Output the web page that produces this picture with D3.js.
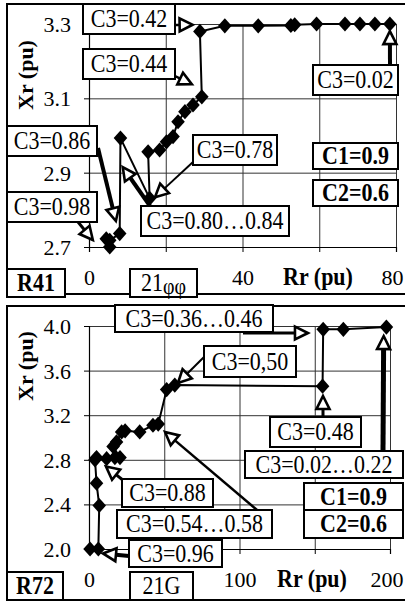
<!DOCTYPE html>
<html>
<head>
<meta charset="utf-8">
<script src="https://cdn.jsdelivr.net/npm/d3@7"></script>
<style>
  html, body { margin: 0; padding: 0; background: #fff; }
  svg { display: block; }
  svg text { font-family: "Liberation Serif", "DejaVu Serif", "Times New Roman", serif !important; fill: #000; }
</style>
</head>
<body>
<svg id="chart" width="405" height="605"></svg>
<script>
// ---------- DATA ----------
// Panel R41 (21φφ): rotor resistance Rr vs reactance Xr
const r41Rr = [78.4, 74.5, 70.6, 66.7, 59.3, 53.6, 52.6, 44.1, 35.4, 28.9, 29.4, 27.1, 25.0, 23.2, 21.9, 20.2, 18.4, 15.4, 15.8, 8.2, 8.0, 5.4, 4.5, 5.4];
const r41Xr = [3.300, 3.300, 3.300, 3.300, 3.300, 3.298, 3.296, 3.295, 3.295, 3.280, 3.104, 3.082, 3.064, 3.037, 2.997, 2.983, 2.961, 2.956, 2.831, 2.993, 2.736, 2.718, 2.722, 2.700];
const r41XTicks = [0, 20, 40, 60, 80];
const r41XLabels = [0, 40, 80];
const r41YTicks = [2.7, 2.9, 3.1, 3.3];

// Panel R72 (21G)
const r72Rr = [197.6, 169.0, 155.6, 155.2, 57.0, 51.6, 46.0, 42.5, 33.7, 24.0, 21.7, 18.3, 16.0, 20.6, 17.2, 11.7, 5.0, 4.0, 5.0, 6.8, 6.2, 0.7];
const r72Xr = [3.99, 3.97, 3.97, 3.46, 3.47, 3.43, 3.12, 3.11, 3.05, 3.06, 3.05, 2.96, 2.92, 2.82, 2.82, 2.81, 2.82, 2.80, 2.59, 2.39, 2.00, 2.00];
const r72XTicks = [0, 50, 100, 150, 200];
const r72XLabels = [0, 100, 200];
const r72YTicks = [2.0, 2.4, 2.8, 3.2, 3.6, 4.0];

// Annotation texts
const r41Labels = ["C3=0.42", "C3=0.44", "C3=0.86", "C3=0.98", "C3=0.78", "C3=0.80…0.84", "C3=0.02"];
const r41Targets = [[27.0, 3.298], [26.8, 3.138], [7.0, 2.770], [1.0, 2.719], [17.2, 2.834], [8.8, 2.915], [78.4, 3.281]];
const r72Labels = ["C3=0.36…0.46", "C3=0,50", "C3=0.48", "C3=0.02…0.22", "C3=0.88", "C3=0.54…0.58", "C3=0.96"];
const r72Targets = [[145.5, 3.937], [59.1, 3.489], [155.5, 3.372], [195.8, 3.91], [11.3, 2.74], [50.5, 3.05], [9.3, 1.96]];
const constLabels = ["C1=0.9", "C2=0.6"];
const panelNames = ["R41", "R72"];

// ---------- DRAW ----------
const svg = d3.select("#chart");
const FS = 22;
const FONT = '"Liberation Serif", "DejaVu Serif", "Times New Roman", serif';
const STRETCH = 1.12;

function arrow(g, x1, y1, x2, y2, w) {
  const dx = x2 - x1, dy = y2 - y1, L = Math.hypot(dx, dy);
  const ux = dx / L, uy = dy / L, nx = -uy, ny = ux;
  const hl = 13, hw = 6.5;
  const bx = x2 - ux * hl, by = y2 - uy * hl;
  g.append("line").attr("x1", x1).attr("y1", y1).attr("x2", bx).attr("y2", by)
    .attr("stroke", "#000").attr("stroke-width", w);
  g.append("path")
    .attr("d", d3.line()([[x2, y2], [bx + nx * hw, by + ny * hw], [bx - nx * hw, by - ny * hw]]) + "Z")
    .attr("fill", "#fff").attr("stroke", "#000").attr("stroke-width", 2.6).attr("stroke-linejoin", "miter");
}

function box(g, x0, y0, x1, y1, txt, bold) {
  g.append("rect").attr("x", x0).attr("y", y0).attr("width", x1 - x0).attr("height", y1 - y0)
    .attr("fill", "#fff").attr("stroke", "#000").attr("stroke-width", 2);
  return g.append("text")
    .attr("transform", `translate(${(x0 + x1) / 2},${(y0 + y1) / 2 + 8}) scale(1,${STRETCH})`)
    .attr("text-anchor", "middle").attr("font-size", FS).attr("font-family", FONT)
    .attr("font-weight", bold ? "bold" : "normal").text(txt);
}

function panel(cfg) {
  const g = svg.append("g").attr("font-family", FONT);
  const x = d3.scaleLinear().domain(cfg.xDom).range(cfg.xRange);
  const y = d3.scaleLinear().domain(cfg.yDom).range(cfg.yRange);
  const [L, R] = cfg.xRange, [B, T] = cfg.yRange;

  // frame
  g.append("rect").attr("x", cfg.frame[0]).attr("y", cfg.frame[1])
    .attr("width", cfg.frame[2]).attr("height", cfg.frame[3])
    .attr("fill", "none").attr("stroke", "#000").attr("stroke-width", 2);

  // grid (vertical + horizontal) via axes
  const gx = g.append("g").attr("transform", `translate(0,${B})`)
    .call(d3.axisBottom(x).tickValues(cfg.xTicks).tickSizeInner(-(B - T)).tickSizeOuter(0).tickFormat(""));
  gx.select(".domain").remove();
  gx.selectAll("line").attr("stroke", "#333").attr("stroke-width", 1);
  const gy = g.append("g").attr("transform", `translate(${L},0)`)
    .call(d3.axisLeft(y).tickValues(cfg.yTicks).tickSizeInner(-(R - L)).tickSizeOuter(0).tickFormat(""));
  gy.select(".domain").remove();
  gy.selectAll("line").attr("stroke", "#333").attr("stroke-width", 1);

  // axes with outward ticks and labels
  const ax = g.append("g").attr("transform", `translate(0,${B})`)
    .call(d3.axisBottom(x).tickValues(cfg.xTicks).tickSize(5).tickPadding(17)
      .tickFormat(d => cfg.xLabels.includes(d) ? String(d) : ""));
  const ay = g.append("g").attr("transform", `translate(${L},0)`)
    .call(d3.axisLeft(y).tickValues(cfg.yTicks).tickSize(5).tickPadding(13).tickFormat(d3.format(".1f")));
  [ax, ay].forEach(a => {
    a.attr("font-family", FONT).attr("font-size", FS);
    a.select(".domain").attr("stroke", "#000").attr("stroke-width", 1.2);
    a.selectAll("line").attr("stroke", "#000").attr("stroke-width", 1);
    a.selectAll("text").attr("font-size", FS).attr("font-family", FONT).attr("fill", "#000");
  });
  ay.selectAll("text").attr("dy", "0.34em");
  // keep the last x label inside the picture (right edge at 403)
  ax.selectAll("text").filter(d => d === cfg.xDom[1])
    .attr("text-anchor", "end").attr("dx", 403 - x(cfg.xDom[1]));

  // axis titles
  g.append("text").attr("transform", `translate(${cfg.xTitle[0]},${cfg.xTitle[1]}) scale(1,${STRETCH})`)
    .attr("text-anchor", "middle")
    .attr("font-size", FS).attr("font-weight", "bold").attr("font-family", FONT).text("Rr (pu)");
  g.append("text").attr("transform", `translate(${cfg.yTitle[0]},${cfg.yTitle[1]}) rotate(-90)`)
    .attr("text-anchor", "middle").attr("dy", "0.35em").attr("font-family", FONT)
    .attr("font-size", FS).attr("font-weight", "bold").text("Xr (pu)");

  // data line + diamonds
  const pts = cfg.rr.map((r, i) => [r, cfg.xr[i]]);
  g.append("path").datum(pts)
    .attr("d", d3.line().x(d => x(d[0])).y(d => y(d[1])))
    .attr("fill", "none").attr("stroke", "#000").attr("stroke-width", 2);
  const sym = d3.symbol().type(d3.symbolSquare).size(92)();
  g.selectAll("path.m").data(pts).join("path").attr("class", "m")
    .attr("d", sym)
    .attr("transform", d => `translate(${x(d[0])},${y(d[1])}) scale(1,1.12) rotate(45)`)
    .attr("fill", "#000");

  // annotations
  cfg.notes.forEach((n, i) => {
    const [tx, ty] = cfg.targets[i];
    arrow(g, n.from[0], n.from[1], x(tx), y(ty), n.w);
  });
  cfg.notes.forEach((n, i) => box(g, n.box[0], n.box[1], n.box[2], n.box[3], cfg.labels[i], false));
  cfg.constBoxes.forEach((b, i) => box(g, b[0], b[1], b[2], b[3], constLabels[i], true));
  box(g, cfg.nameBox[0], cfg.nameBox[1], cfg.nameBox[2], cfg.nameBox[3], cfg.name, true);
  const t = box(g, cfg.typeBox[0], cfg.typeBox[1], cfg.typeBox[2], cfg.typeBox[3], "", false);
  t.text(null);
  cfg.typeText(t);
}

panel({
  xDom: [0, 80], xRange: [89, 396],
  yDom: [2.7, 3.3], yRange: [247, 24],
  xTicks: r41XTicks, xLabels: r41XLabels, yTicks: r41YTicks,
  frame: [7, 4, 402, 290],
  xTitle: [318, 285], yTitle: [25, 75],
  rr: r41Rr, xr: r41Xr,
  labels: r41Labels, targets: r41Targets,
  notes: [
    { box: [83, 4, 175, 34], from: [175, 25], w: 2.5 },
    { box: [83, 49, 175, 79], from: [175, 76], w: 2.5 },
    { box: [7, 126, 97, 156], from: [98, 148], w: 4 },
    { box: [7, 192, 97, 222], from: [78, 222], w: 3 },
    { box: [193, 135, 277, 165], from: [193, 162], w: 2 },
    { box: [141, 206, 289, 236], from: [150, 206], w: 4 },
    { box: [313, 65, 398, 95], from: [390, 65], w: 4 }
  ],
  constBoxes: [[313, 143, 398, 169], [313, 180, 398, 206]],
  nameBox: [7, 269, 65, 297], name: panelNames[0],
  typeBox: [130, 269, 197, 297],
  typeText: t => { t.append("tspan").text("21"); t.append("tspan").attr("font-size", 20).attr("dy", 3).text("φφ"); }
});

panel({
  xDom: [0, 200], xRange: [89, 390],
  yDom: [2.0, 4.0], yRange: [549, 326],
  xTicks: r72XTicks, xLabels: r72XLabels, yTicks: r72YTicks,
  frame: [7, 306, 402, 294],
  xTitle: [312, 587], yTitle: [25, 366],
  rr: r72Rr, xr: r72Xr,
  labels: r72Labels, targets: r72Targets,
  notes: [
    { box: [115, 305, 273, 332], from: [243, 333], w: 3 },
    { box: [204, 346, 296, 377], from: [204, 357], w: 2 },
    { box: [270, 417, 361, 447], from: [323, 417], w: 3 },
    { box: [245, 451, 403, 478], from: [383, 451], w: 5 },
    { box: [122, 479, 213, 507], from: [124, 481], w: 3 },
    { box: [117, 510, 272, 538], from: [257, 510], w: 2.5 },
    { box: [129, 540, 222, 567], from: [129, 556], w: 4 }
  ],
  constBoxes: [[304, 483, 403, 510], [304, 510, 403, 538]],
  nameBox: [7, 572, 63, 600], name: panelNames[1],
  typeBox: [130, 572, 193, 600],
  typeText: t => { t.text("21G"); }
});
</script>
</body>
</html>
